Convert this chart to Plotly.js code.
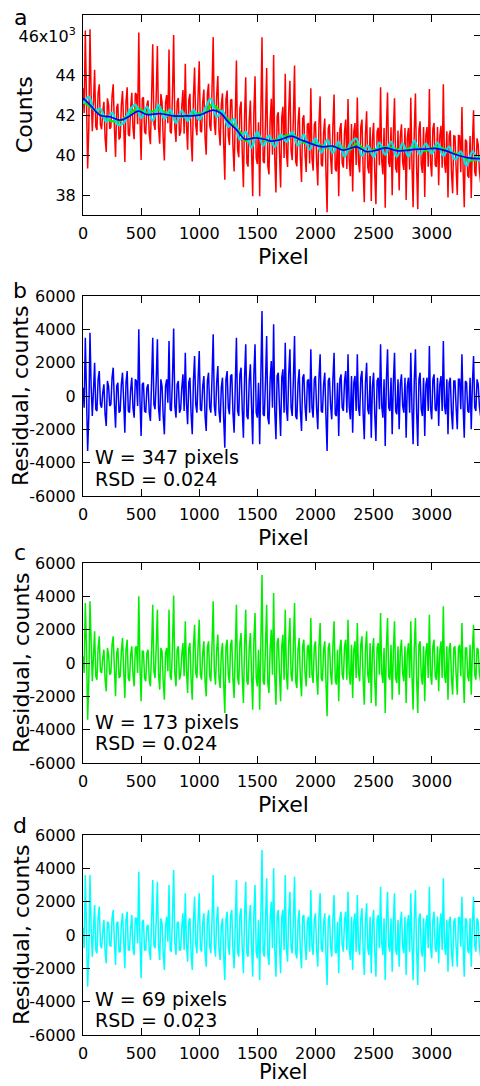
<!DOCTYPE html>
<html><head><meta charset="utf-8">
<script src="https://cdn.plot.ly/plotly-3.0.1.min.js"></script>
<style>html,body{margin:0;padding:0;overflow:hidden;background:#fff}#chart{width:482px;height:1086px}</style>
</head><body><div id="chart"></div>
<script>
// ---------- data ----------
// samples on even pixels (0,20,...) and the in-between pixels (10,30,...)
const pixelEven = [0,20,40,60,80,100,120,140,160,180,200,220,240,260,280,300,320,340,360,380,400,420,440,460,480,500,520,540,560,580,600,620,640,660,680,700,720,740,760,780,800,820,840,860,880,900,920,940,960,980,1000,1020,1040,1060,1080,1100,1120,1140,1160,1180,1200,1220,1240,1260,1280,1300,1320,1340,1360,1380,1400,1420,1440,1460,1480,1500,1520,1540,1560,1580,1600,1620,1640,1660,1680,1700,1720,1740,1760,1780,1800,1820,1840,1860,1880,1900,1920,1940,1960,1980,2000,2020,2040,2060,2080,2100,2120,2140,2160,2180,2200,2220,2240,2260,2280,2300,2320,2340,2360,2380,2400,2420,2440,2460,2480,2500,2520,2540,2560,2580,2600,2620,2640,2660,2680,2700,2720,2740,2760,2780,2800,2820,2840,2860,2880,2900,2920,2940,2960,2980,3000,3020,3040,3060,3080,3100,3120,3140,3160,3180,3200,3220,3240,3260,3280,3300,3320,3340,3360,3380,3400,3420];
const pixelOdd = [10,30,50,70,90,110,130,150,170,190,210,230,250,270,290,310,330,350,370,390,410,430,450,470,490,510,530,550,570,590,610,630,650,670,690,710,730,750,770,790,810,830,850,870,890,910,930,950,970,990,1010,1030,1050,1070,1090,1110,1130,1150,1170,1190,1210,1230,1250,1270,1290,1310,1330,1350,1370,1390,1410,1430,1450,1470,1490,1510,1530,1550,1570,1590,1610,1630,1650,1670,1690,1710,1730,1750,1770,1790,1810,1830,1850,1870,1890,1910,1930,1950,1970,1990,2010,2030,2050,2070,2090,2110,2130,2150,2170,2190,2210,2230,2250,2270,2290,2310,2330,2350,2370,2390,2410,2430,2450,2470,2490,2510,2530,2550,2570,2590,2610,2630,2650,2670,2690,2710,2730,2750,2770,2790,2810,2830,2850,2870,2890,2910,2930,2950,2970,2990,3010,3030,3050,3070,3090,3110,3130,3150,3170,3190,3210,3230,3250,3270,3290,3310,3330,3350,3370,3390,3410];

const rawCountsEven = [43380,46270,39360,46340,41220,44300,41290,43580,41320,42700,
40180,42550,41420,43580,39940,42600,40920,43240,39680,43430,
40980,43150,40820,43060,46170,39780,42930,41080,42760,40570,
45580,41290,45500,40600,42680,39760,43040,45320,41110,46050,
40690,42890,41190,43290,44600,40300,43100,39710,44420,41020,
44730,41170,43310,40050,43600,41240,45940,41030,43990,40500,
43120,38790,43260,40530,42820,39210,44770,39920,42710,38420,
43930,39450,42760,37970,43980,39580,37960,45940,39620,44390,
39060,42850,45040,38150,42180,38400,42450,44100,39430,43750,
39770,44520,39470,42430,38680,42030,39180,41630,43380,39250,
41720,38500,42970,39460,41860,37160,41570,39080,43060,39210,
37960,41630,39400,41810,42840,38970,38200,41630,42920,39160,
41810,37670,42220,39110,37730,41650,37570,41400,43430,39060,
37390,43160,39430,38010,42880,39150,38260,41570,39280,37780,
41390,42900,37410,43110,37320,41720,39130,37930,41440,43340,
38950,41640,39430,38520,41500,43580,39140,37900,41260,38110,
40970,38030,40990,42440,37410,40700,38890,37880,42280,38970,
40560,38650];
const rawCountsOdd = [42130,43620,41400,43080,42660,41450,43140,41550,42210,40890,
42870,41340,43000,41460,42420,40810,42530,41560,42710,41060,
42420,41390,43140,41570,41880,42860,41210,42570,41070,42880,
41590,43000,41400,43090,40870,42650,41630,41220,43110,41400,
42690,40990,42490,41100,41600,42800,40910,42920,41520,43030,
41250,42690,40930,43080,41520,43340,41640,43010,41250,42560,
40660,42830,41000,42780,40470,41940,40300,42370,40170,41980,
39640,41760,40270,42180,39880,41670,42050,39730,41710,39480,
41760,40050,39850,41970,40190,41930,39880,40120,42240,40260,
41950,39700,41650,39910,41860,40110,41560,39610,39870,41540,
39710,41590,39570,41160,39260,41370,39880,41470,39340,41190,
41350,39620,41210,39330,39760,41590,41220,39530,39690,41440,
39290,41050,39420,41420,40840,39160,41190,39520,39750,41380,
41280,39650,41420,41100,39370,41260,40970,39680,41380,40890,
39300,39610,41210,39420,41320,39530,41430,41040,39440,39650,
41350,39540,41430,41010,39390,39660,41220,40980,39140,40990,
39350,41010,39170,39330,40810,39000,40990,40580,39180,40870,
39260];

const smoothPixelW347 = [0,60,146,230,318,400,476,548,662,777,877,1000,1121,1180,1250,1320,1393,1479,1560,1622,1700,1790,1870,1923,2000,2066,2150,2238,2353,2440,2525,2600,2712,2855,2940,3027,3120,3199,3314,3424];
const smoothW347 = [42880,42550,42030,41950,41780,41980,42230,42060,42110,41990,41990,42030,42280,42150,41690,41300,40830,40890,40820,40730,40800,40980,40800,40690,40520,40440,40480,40280,40440,40200,40280,40390,40240,40310,40330,40360,40250,40070,39890,39850];

const smoothPixelW173 = [0,100,200,300,400,470,550,650,750,850,950,1050,1110,1200,1300,1350,1400,1500,1600,1700,1800,1900,2000,2100,2200,2300,2350,2450,2550,2650,2750,2850,2950,3050,3150,3250,3330,3424];
const smoothW173 = [42700,42300,41850,41700,42100,42350,42150,42300,42050,41950,42100,42150,42550,42100,41500,41200,40750,40950,40700,40900,41050,40650,40600,40400,40450,40300,40600,40200,40400,40400,40250,40450,40250,40450,40200,40000,39750,39950];

const smoothPixelW69 = [0,50,100,150,200,250,300,350,400,450,500,550,600,650,700,750,800,850,900,950,1000,1050,1100,1150,1200,1250,1300,1350,1400,1450,1500,1550,1600,1650,1700,1750,1800,1850,1900,1950,2000,2050,2100,2150,2200,2250,2300,2350,2400,2450,2500,2550,2600,2650,2700,2750,2800,2850,2900,2950,3000,3050,3100,3150,3200,3250,3300,3350,3400,3424];
const smoothW69 = [42600,42950,42250,42350,41700,42150,41550,41650,42250,42550,41900,42450,41750,42550,41850,42300,41650,42250,41750,42300,41800,42350,42850,41950,42250,41450,41850,40800,41200,40400,41200,40500,41000,40450,41050,40700,41200,40500,41050,40300,40850,40150,40800,40150,40700,39950,40600,40850,40000,40500,39950,40650,40050,40700,39950,40600,39950,40750,40050,40600,40100,40650,40000,40450,39800,40200,39500,40200,39750,40050];

const residualW347Even = [500,3500,-3300,3800,-1200,2000,-900,1500,-700,700,
-1800,600,-500,1700,-1900,800,-900,1400,-2200,1500,
-1000,1100,-1300,900,4000,-2400,800,-1000,700,-1500,
3500,-800,3400,-1500,600,-2300,1000,3300,-900,4050,
-1300,900,-800,1300,2600,-1700,1100,-2300,2400,-1000,
2700,-900,1200,-2100,1400,-1000,3700,-1200,1800,-1600,
1100,-3100,1500,-1100,1300,-2200,3500,-1200,1700,-2500,
3100,-1400,1900,-2900,3100,-1300,-2900,5100,-1200,3600,
-1700,2100,4300,-2600,1400,-2400,1600,3200,-1500,2800,
-1200,3600,-1400,1600,-2100,1300,-1500,1000,2800,-1300,
1200,-2000,2500,-1000,1400,-3300,1100,-1400,2600,-1200,
-2400,1300,-900,1500,2500,-1400,-2200,1200,2500,-1200,
1500,-2600,2000,-1100,-2500,1400,-2700,1100,3100,-1300,
-3000,2800,-900,-2300,2600,-1100,-2000,1300,-1000,-2500,
1100,2600,-2900,2800,-3000,1400,-1200,-2400,1100,3000,
-1400,1300,-900,-1800,1200,3300,-1100,-2300,1100,-2000,
900,-2000,1000,2500,-2500,800,-1000,-2000,2400,-900,
700,-1200];
const residualW347Odd = [-700,900,-1200,600,300,-800,1000,-500,200,-1100,
900,-600,1100,-400,600,-1000,700,-300,800,-900,
400,-700,1000,-600,-300,700,-900,500,-1000,800,
-500,900,-700,1000,-1200,600,-400,-800,1100,-600,
700,-1000,500,-900,-400,800,-1100,900,-500,1000,
-800,600,-1200,900,-700,1100,-600,800,-900,500,
-1300,1000,-700,1200,-1000,600,-900,1300,-800,1100,
-1200,900,-600,1300,-1000,800,1200,-1100,900,-1300,
1000,-700,-900,1200,-600,1100,-1000,-800,1300,-700,
1000,-1200,800,-900,1100,-600,900,-1000,-700,1000,
-800,1100,-900,700,-1200,900,-600,1000,-1100,800,
1000,-700,900,-1000,-600,1200,800,-900,-700,1100,
-1000,800,-800,1200,600,-1100,900,-800,-600,1000,
900,-700,1100,800,-900,1000,700,-600,1100,600,
-1000,-700,900,-900,1000,-800,1100,700,-900,-700,
1000,-800,1100,700,-900,-600,1000,800,-1000,900,
-700,1000,-800,-600,900,-900,1100,700,-700,1000,
-600];

const residualW173Even = [400,3600,-3400,3700,-1100,1900,-1000,1600,-600,800,
-1700,500,-600,1600,-2000,900,-800,1500,-2100,1400,
-1100,1000,-1400,1000,4000,-2300,700,-1100,800,-1400,
3500,-900,3200,-1600,700,-2200,900,3200,-1000,4050,
-1400,1000,-700,1200,2500,-1800,1200,-2200,2300,-900,
2600,-1000,1300,-2000,1300,-1100,3700,-1300,1700,-1500,
1200,-3000,1400,-1200,1400,-2100,3500,-1300,1800,-2400,
3200,-1300,1800,-2800,3000,-1400,-2800,5300,-1300,3500,
-1800,2000,4200,-2500,1500,-2300,1700,3200,-1600,2700,
-1100,3600,-1500,1500,-2000,1400,-1400,1100,2700,-1200,
1300,-1900,2400,-1100,1300,-3200,1200,-1300,2500,-1300,
-2300,1400,-1000,1400,2600,-1300,-2100,1300,2400,-1100,
1600,-2500,1900,-1200,-2400,1500,-2600,1200,3000,-1200,
-3000,2700,-1000,-2200,2500,-1200,-1900,1400,-1100,-2400,
1200,2500,-2800,2700,-3000,1300,-1300,-2300,1200,2900,
-1300,1400,-1000,-1700,1300,3400,-1200,-2200,1200,-1900,
1000,-1900,1100,2400,-2400,900,-1100,-1900,2300,-1000,
800,-1100];
const residualW173Odd = [-600,1000,-1100,600,400,-800,900,-500,300,-1000,
900,-700,1100,-300,600,-900,700,-400,800,-900,
500,-700,900,-600,-200,700,-900,600,-1000,700,
-500,1000,-700,900,-1100,600,-500,-800,1000,-600,
800,-1000,500,-800,-400,900,-1000,900,-600,1000,
-700,600,-1100,900,-800,1100,-500,800,-900,600,
-1200,1000,-700,1100,-1000,700,-900,1200,-800,1000,
-1100,900,-700,1300,-900,800,1100,-1100,1000,-1200,
900,-700,-800,1200,-600,1000,-1000,-700,1200,-700,
1000,-1100,800,-900,1000,-600,900,-900,-700,1000,
-800,1000,-900,800,-1100,900,-600,1000,-1000,800,
900,-700,1000,-1000,-600,1100,800,-900,-600,1100,
-1000,800,-700,1200,700,-1100,900,-700,-600,900,
900,-800,1100,700,-900,1000,700,-600,1000,600,
-900,-700,900,-900,1100,-800,1000,700,-900,-600,
1000,-800,1000,700,-900,-700,1000,800,-900,900,
-700,900,-800,-600,900,-800,1100,700,-700,900,
-600];

const residualW69Even = [450,3600,-3100,3600,-1300,1800,-1100,1700,-800,900,
-1700,700,-700,1500,-1800,800,-1000,1300,-2000,1400,
-900,1200,-1200,1000,3800,-2600,900,-900,600,-1500,
3300,-800,3200,-1500,700,-2100,1100,3000,-1000,3900,
-1200,800,-900,1300,2500,-1600,1000,-2100,2300,-1100,
2500,-1000,1300,-1900,1500,-1100,3600,-1300,1700,-1500,
1000,-2700,1400,-1200,1500,-2000,3300,-1300,1600,-2300,
3200,-1300,1800,-2500,3000,-1400,-2700,5100,-1300,3400,
-1800,2000,4000,-2500,1500,-2300,1500,3600,-1600,2600,
-1100,3500,-1400,1500,-2000,1200,-1500,1100,2700,-1200,
1300,-1900,2500,-1000,1300,-3000,1200,-1300,2400,-1100,
-2300,1400,-1000,1400,2600,-1500,-2100,1300,2400,-1200,
1600,-2400,1900,-1200,-2300,1500,-2500,1200,2900,-1200,
-2700,2600,-1000,-2200,2500,-1200,-1900,1400,-1100,-2400,
1200,2500,-2700,2700,-3000,1300,-1300,-2200,1200,2900,
-1400,1400,-1000,-1700,1300,3400,-1200,-2200,1100,-1900,
1000,-1900,1100,2300,-2500,900,-1100,-1900,2300,-1000,
800,-1300];
const residualW69Odd = [-800,900,-1100,500,300,-900,1000,-600,200,-1000,
800,-600,1000,-400,700,-1000,600,-300,900,-900,
400,-800,1000,-500,-300,800,-900,500,-900,800,
-600,900,-600,1000,-1100,500,-400,-900,1100,-500,
700,-900,500,-900,-500,800,-1100,800,-500,900,
-800,700,-1100,800,-700,1000,-600,900,-900,500,
-1200,900,-700,1200,-900,600,-1000,1200,-800,1100,
-1100,900,-600,1200,-1000,900,1100,-1000,900,-1200,
1000,-800,-900,1100,-600,1100,-900,-800,1200,-700,
900,-1100,800,-1000,1100,-600,800,-1000,-700,900,
-900,1100,-800,700,-1100,900,-700,1000,-1000,800,
1000,-600,900,-900,-700,1100,800,-1000,-700,1000,
-900,800,-800,1100,600,-1000,900,-800,-500,1000,
800,-700,1000,800,-900,900,700,-700,1100,600,
-1000,-600,900,-800,1000,-900,1000,700,-800,-700,
900,-800,1100,600,-900,-600,900,800,-1000,800,
-700,1000,-700,-600,1000,-900,1000,700,-600,1000,
-700];

const xTickVals = [0,500,1000,1500,2000,2500,3000];
const countTickVals = [38000,40000,42000,44000,46000];
const countTickText = ['38','40','42','44','46x10<sup>3</sup>'];
const residTickVals = [-6000,-4000,-2000,0,2000,4000,6000];
const residTickText = ['-6000','-4000','-2000','0','2000','4000','6000'];
const panelLabels = ['a','b','c','d'];
const windowText = ['W = 347 pixels','W = 173 pixels','W = 69 pixels'];
const rsdText = ['RSD = 0.024','RSD = 0.024','RSD = 0.023'];

// merge the two sample sets into one pixel-ordered series
function mergeSamples(xa, ya, xb, yb) {
  const pts = xa.map((x, i) => [x, ya[i]]).concat(xb.map((x, i) => [x, yb[i]]));
  pts.sort((p, q) => p[0] - q[0]);
  return {x: pts.map(p => p[0]), y: pts.map(p => p[1])};
}
const raw = mergeSamples(pixelEven, rawCountsEven, pixelOdd, rawCountsOdd);
const r347 = mergeSamples(pixelEven, residualW347Even, pixelOdd, residualW347Odd);
const r173 = mergeSamples(pixelEven, residualW173Even, pixelOdd, residualW173Odd);
const r69 = mergeSamples(pixelEven, residualW69Even, pixelOdd, residualW69Odd);

// ---------- layout ----------
const W = 482, H = 1086;
const FONT = 'DejaVu Sans, Liberation Sans, Arial, sans-serif';
const fy = p => 1 - p / H;
const fx = p => p / W;
const panels = [[15,215],[296,496],[563,763],[835,1035]]; // top,bottom px

function xAxis(i) {
  return {
    domain: [fx(83), fx(481)], anchor: i === 0 ? 'y' : 'y' + (i + 1),
    range: [0, 3424], tickvals: xTickVals, ticktext: xTickVals.map(String),
    ticks: 'inside', ticklen: 7, tickwidth: 1, tickcolor: '#000',
    showline: true, linecolor: '#000', linewidth: 1, mirror: 'ticks',
    showgrid: false, zeroline: false, automargin: false, ticklabelstandoff: 4,
    tickfont: {family: FONT, size: 16, color: '#000'}
  };
}
function yAxis(i) {
  const [t, b] = panels[i];
  const base = {
    domain: [fy(b), fy(t)], anchor: i === 0 ? 'x' : 'x' + (i + 1),
    ticks: 'inside', ticklen: 7, tickwidth: 1, tickcolor: '#000',
    showline: true, linecolor: '#000', linewidth: 1, mirror: 'ticks',
    showgrid: false, zeroline: false, automargin: false, ticklabelstandoff: 3,
    tickfont: {family: FONT, size: 16, color: '#000'}
  };
  if (i === 0) return Object.assign(base, {range: [37025, 47050], tickvals: countTickVals, ticktext: countTickText});
  return Object.assign(base, {range: [-6000, 6000], tickvals: residTickVals, ticktext: residTickText});
}

const traces = [
  {x: raw.x, y: raw.y, type: 'scatter', mode: 'lines', line: {color: '#ff0000', width: 1.5}, xaxis: 'x', yaxis: 'y', name: 'data'},
  {x: smoothPixelW173, y: smoothW173, type: 'scatter', mode: 'lines', line: {color: '#00ee00', width: 2.4, shape: 'spline'}, xaxis: 'x', yaxis: 'y', name: 'W=173'},
  {x: smoothPixelW69, y: smoothW69, type: 'scatter', mode: 'lines', line: {color: '#00e5e5', width: 2.4, shape: 'spline'}, xaxis: 'x', yaxis: 'y', name: 'W=69'},
  {x: smoothPixelW347, y: smoothW347, type: 'scatter', mode: 'lines', line: {color: '#0000ff', width: 1.7, shape: 'spline'}, xaxis: 'x', yaxis: 'y', name: 'W=347'},
  {x: r347.x, y: r347.y, type: 'scatter', mode: 'lines', line: {color: '#0000ff', width: 1.5}, xaxis: 'x2', yaxis: 'y2', name: 'res347'},
  {x: r173.x, y: r173.y, type: 'scatter', mode: 'lines', line: {color: '#00ee00', width: 1.5}, xaxis: 'x3', yaxis: 'y3', name: 'res173'},
  {x: r69.x, y: r69.y, type: 'scatter', mode: 'lines', line: {color: '#00ffff', width: 1.5}, xaxis: 'x4', yaxis: 'y4', name: 'res69'}
];

const annotations = [];
const txt = (text, x, y, size, extra) => Object.assign({text, xref: 'paper', yref: 'paper', x: fx(x), y: fy(y), xanchor: 'center', yanchor: 'middle', showarrow: false, font: {family: FONT, size, color: '#000'}}, extra || {});
const letterY = [18, 290, 552, 825];
panelLabels.forEach((t, i) => annotations.push(txt(t, 20, letterY[i], 22)));
panels.forEach(([t, b], i) => {
  annotations.push(txt(i === 0 ? 'Counts' : 'Residual, counts', i === 0 ? 24 : 21, (t + b) / 2, 22, {textangle: -90}));
  if (i < 3) annotations.push(txt('Pixel', 283, b + 41, 22));
  else annotations.push(txt('Pixel', 283, H, 21, {yanchor: 'bottom'}));
});
const wY = [457, 722, 999], rY = [479, 743, 1020];
windowText.forEach((t, i) => {
  annotations.push(txt(t, 93, wY[i], 19, {xanchor: 'left'}));
  annotations.push(txt(rsdText[i], 93, rY[i], 19, {xanchor: 'left'}));
});

const layout = {
  width: W, height: H, margin: {l: 0, r: 0, t: 0, b: 0},
  paper_bgcolor: '#fff', plot_bgcolor: '#fff', showlegend: false,
  font: {family: FONT, color: '#000'},
  xaxis: xAxis(0), xaxis2: xAxis(1), xaxis3: xAxis(2), xaxis4: xAxis(3),
  yaxis: yAxis(0), yaxis2: yAxis(1), yaxis3: yAxis(2), yaxis4: yAxis(3),
  annotations: annotations
};
Plotly.newPlot('chart', traces, layout, {staticPlot: true, displayModeBar: false});
</script></body></html>
